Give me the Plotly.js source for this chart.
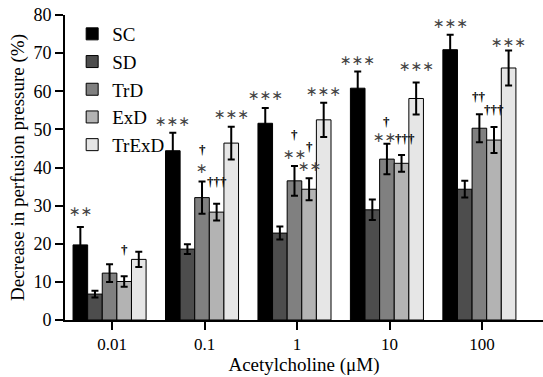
<!DOCTYPE html>
<html><head><meta charset="utf-8">
<script src="https://cdn.plot.ly/plotly-3.0.1.min.js"></script>
<style>html,body{margin:0;padding:0;background:#fff}</style>
</head><body><div id="chart" style="width:543px;height:377px"></div>
<script>
const categories = ["0.01", "0.1", "1", "10", "100"];
const seriesNames = ["SC", "SD", "TrD", "ExD", "TrExD"];
const SC    = [19.7, 44.4, 51.6, 60.8, 70.9];
const SD    = [6.8, 18.6, 22.8, 28.9, 34.3];
const TrD   = [12.3, 32.1, 36.5, 42.2, 50.3];
const ExD   = [10.1, 28.3, 34.3, 41.1, 47.2];
const TrExD = [15.9, 46.4, 52.5, 58.1, 66.1];
const SC_err    = [4.7, 4.7, 4.0, 4.4, 3.9];
const SD_err    = [0.9, 1.3, 1.7, 2.7, 2.2];
const TrD_err   = [2.3, 4.2, 3.9, 4.0, 3.7];
const ExD_err   = [1.4, 2.2, 2.9, 2.2, 3.4];
const TrExD_err = [2.0, 4.3, 4.5, 4.2, 4.6];
const colors = ["#000000", "#4d4d4d", "#808080", "#b3b3b3", "#e6e6e6"];
// significance labels: [category index, series index, label, y value]
const stars = [
  [0,0,"∗∗",28.7],
  [1,0,"∗∗∗",52.2],[1,2,"∗",40.0],[1,4,"∗∗∗",54.0],
  [2,0,"∗∗∗",59.0],[2,2,"∗∗",43.5],[2,3,"∗∗",40.4],[2,4,"∗∗∗",60.0],
  [3,0,"∗∗∗",68.1],[3,2,"∗∗",48.1],[3,4,"∗∗∗",66.5],
  [4,0,"∗∗∗",78.0],[4,4,"∗∗∗",73.0]
];
const daggers = [
  [0,3,"†",18.6],
  [1,2,"†",44.6],[1,3,"†††",36.3],
  [2,2,"†",48.6],[2,3,"†",45.5],
  [3,2,"†",52.0],[3,3,"†††",47.7],
  [4,2,"††",58.6],[4,3,"†††",55.3]
];

const vals = [SC, SD, TrD, ExD, TrExD];
const errs = [SC_err, SD_err, TrD_err, ExD_err, TrExD_err];
const xIdx = categories.map((c,i)=>i);
const W = 0.158, START = -0.423;
const traces = seriesNames.map((n,k)=>({
  type:'bar', name:n, x:xIdx, y:vals[k],
  width:W, offset:START + k*W,
  marker:{color:colors[k], line:{color:'#000', width:1}},
  error_y:{type:'data', array:errs[k], visible:true, color:'#000', thickness:2, width:3.5},
  legendgroup:n
}));
const xc = (i,k)=> i + START + k*W + W/2;
const annotations = [];
stars.forEach(([i,k,t,y])=>annotations.push({x:xc(i,k) - (i===3 && k===2 ? 0.025 : 0), y:y, xref:'x', yref:'y', text:t, showarrow:false,
  font:{family:'DejaVu Sans', size:14, color:'#444'}, yanchor:'middle'}));
daggers.forEach(([i,k,t,y])=>annotations.push({x:xc(i,k) + (i===3 && k===3 ? 0.04 : 0), y:y, xref:'x', yref:'y', text:'<b>'+t+'</b>', showarrow:false,
  font:{family:'Liberation Serif', size:13, color:'#000'}, yanchor:'middle'}));

const layout = {
  width:543, height:377,
  margin:{l:65, r:0, t:15, b:57},
  paper_bgcolor:'#fff', plot_bgcolor:'#fff',
  barmode:'overlay',
  font:{family:'Liberation Serif', size:18, color:'#000'},
  xaxis:{range:[-0.51, 4.66], tickvals:xIdx, ticktext:categories, showgrid:false, zeroline:false,
    showline:true, linecolor:'#000', linewidth:2, ticks:'outside', ticklen:8, tickwidth:2, tickcolor:'#000',
    tickfont:{size:17}, title:{text:'Acetylcholine (μM)', font:{size:19}, standoff:2}},
  yaxis:{range:[0,80], dtick:10, showgrid:false, zeroline:false,
    showline:true, linecolor:'#000', linewidth:2, ticks:'outside', ticklen:8, tickwidth:2, tickcolor:'#000',
    tickfont:{size:18}, title:{text:'Decrease in perfusion pressure (%)', font:{size:19}, standoff:4}},
  legend:{x:0.015, y:1.0, xanchor:'left', yanchor:'top', bgcolor:'rgba(0,0,0,0)', tracegroupgap:0,
    font:{size:19}, itemwidth:30},
  annotations:annotations,
  showlegend:true
};
Plotly.newPlot('chart', traces, layout, {staticPlot:true, displayModeBar:false});
</script></body></html>
